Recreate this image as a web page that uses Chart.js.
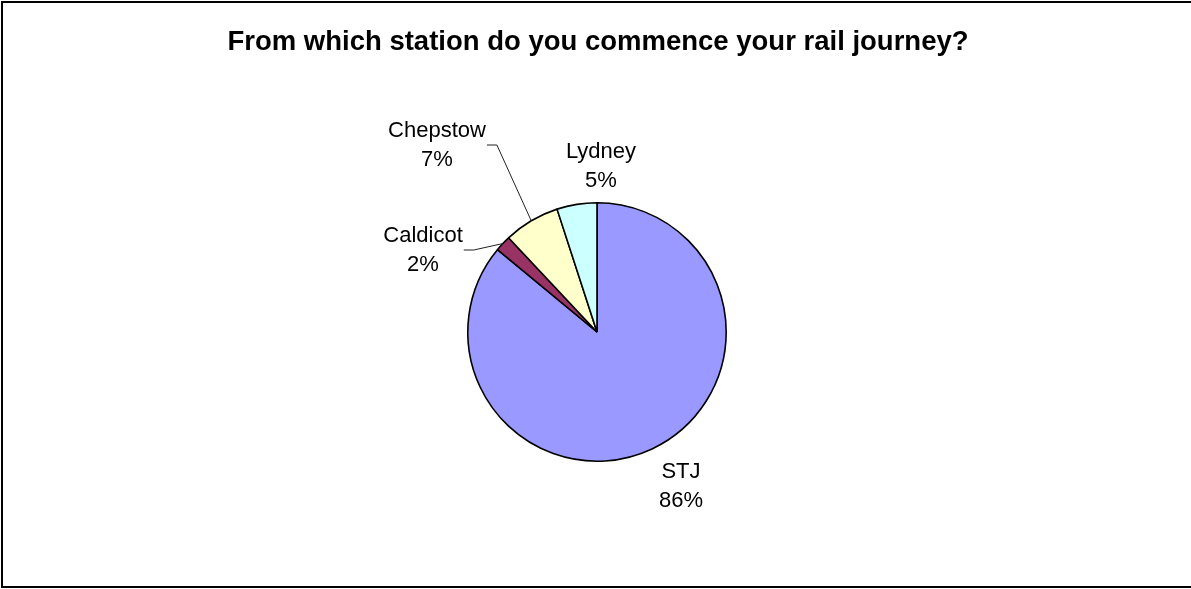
<!DOCTYPE html>
<html>
<head>
<meta charset="utf-8">
<title>Rail journey start station</title>
<script src="https://cdn.jsdelivr.net/npm/chart.js@4/dist/chart.umd.min.js"></script>
<style>
    html, body { margin: 0; padding: 0; background: #fff; }
    canvas { display: block; }
</style>
</head>
<body>
<canvas id="pie-chart" width="1191" height="589"></canvas>
<script>
var chartTitle = 'From which station do you commence your rail journey?';
var stations = ['STJ', 'Caldicot', 'Chepstow', 'Lydney'];
var shares = [86, 2, 7, 5];
var sliceColors = ['#9999FF', '#993366', '#FFFFCC', '#CCFFFF'];

// label placement, offsets from the pie centre (x = text centre, y = first baseline)
var labelOffsets = {
    'STJ': { dx: 84, dy: 146 },
    'Caldicot': { dx: -174, dy: -90 },
    'Chepstow': { dx: -160, dy: -195 },
    'Lydney': { dx: 4, dy: -174 }
};
var withLeader = ['Caldicot', 'Chepstow'];

var labelFont = '22px "Liberation Sans", Arial, sans-serif';
var lineGap = 29;

var frameAndLabels = {
    id: 'frameAndLabels',
    afterDraw: function(chart) {
        var ctx = chart.ctx;
        ctx.save();

        // outer frame
        ctx.strokeStyle = '#000';
        ctx.lineWidth = 2;
        ctx.strokeRect(2, 2, 1192, 585);

        // title
        ctx.fillStyle = '#000';
        ctx.font = 'bold 27.5px "Liberation Sans", Arial, sans-serif';
        ctx.textAlign = 'center';
        ctx.textBaseline = 'alphabetic';
        ctx.fillText(chartTitle, 598, 50);

        // data labels
        var meta = chart.getDatasetMeta(0);
        var total = shares.reduce(function(a, b) { return a + b; }, 0);
        ctx.font = labelFont;
        meta.data.forEach(function(arc, i) {
            var name = stations[i];
            var pct = Math.round(shares[i] / total * 100) + '%';
            var off = labelOffsets[name];
            var cx = arc.x + off.dx;
            var by = arc.y + off.dy;
            ctx.fillStyle = '#000';
            ctx.textAlign = 'center';
            ctx.fillText(name, cx, by);
            ctx.fillText(pct, cx, by + lineGap);

            if (withLeader.indexOf(name) !== -1) {
                var w = Math.max(ctx.measureText(name).width, ctx.measureText(pct).width);
                var sx = cx + w / 2 + 1;
                var sy = by + 8;
                var mid = (arc.startAngle + arc.endAngle) / 2;
                var ex = arc.x + Math.cos(mid) * arc.outerRadius;
                var ey = arc.y + Math.sin(mid) * arc.outerRadius;
                ctx.strokeStyle = '#222';
                ctx.lineWidth = 1;
                ctx.beginPath();
                ctx.moveTo(sx, sy);
                ctx.lineTo(sx + 10, sy);
                ctx.lineTo(ex, ey);
                ctx.stroke();
            }
        });
        ctx.restore();
    }
};

var ctx = document.getElementById('pie-chart');
var chart = new Chart(ctx, {
    type: 'pie',
    data: {
        labels: stations,
        datasets: [{
            data: shares,
            backgroundColor: sliceColors,
            borderColor: '#000',
            borderWidth: 1.6
        }]
    },
    options: {
        responsive: false,
        animation: false,
        layout: {
            padding: { top: 202, bottom: 127, left: 3, right: 0 }
        },
        plugins: {
            legend: { display: false },
            tooltip: { enabled: false },
            title: { display: false }
        }
    },
    plugins: [frameAndLabels]
});
</script>
</body>
</html>
